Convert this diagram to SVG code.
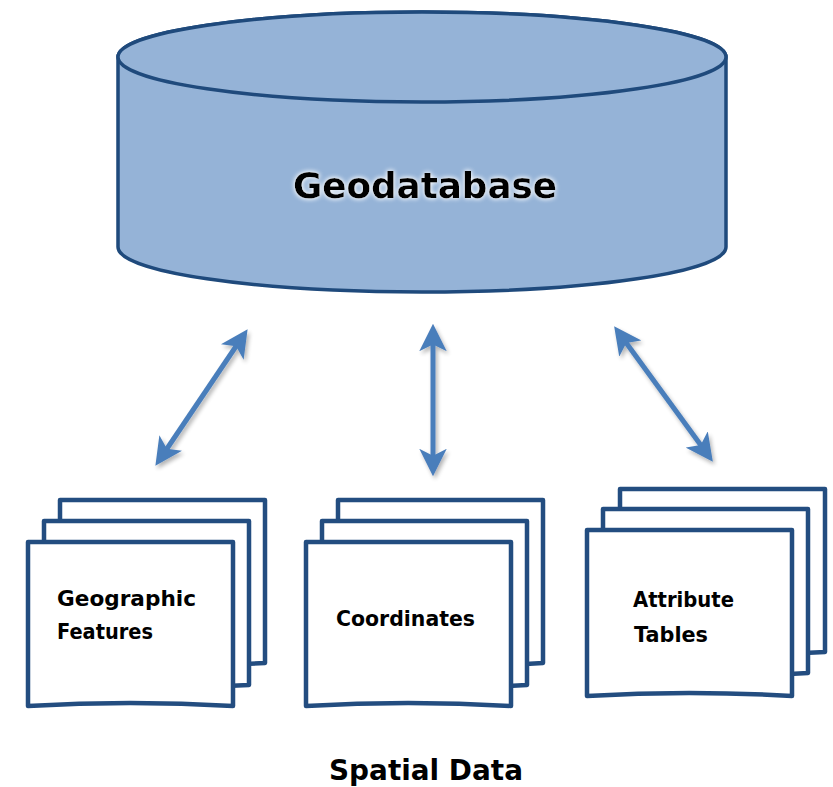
<svg xmlns="http://www.w3.org/2000/svg" width="833" height="787" viewBox="0 0 833 787">
<style>
.cyl{fill:#95b3d7;stroke:#1f4a7c;stroke-width:3.5}
.doc{fill:#ffffff;stroke:#234d80;stroke-width:4.5;stroke-linejoin:round}
.t{font-family:"DejaVu Sans","Liberation Sans",sans-serif;font-weight:bold;fill:#000}
.conn{stroke:#4a7ebb;stroke-width:5;fill:none;marker-start:url(#ah);marker-end:url(#ah)}
</style>
<defs>
<marker id="ah" viewBox="0 0 10 10" refX="7" refY="5" markerWidth="5.5" markerHeight="5.5" orient="auto-start-reverse" markerUnits="strokeWidth">
<path d="M0,0 L10,5 L0,10 L2.5,5 Z" fill="#4a7ebb"/>
</marker>
<filter id="glow" x="-10%" y="-30%" width="120%" height="160%">
<feGaussianBlur in="SourceAlpha" stdDeviation="2.5" result="b"/>
<feFlood flood-color="#ffffff" flood-opacity="0.8"/>
<feComposite in2="b" operator="in" result="g"/>
<feMerge><feMergeNode in="g"/><feMergeNode in="g"/><feMergeNode in="SourceGraphic"/></feMerge>
</filter>
<filter id="sh" x="-20%" y="-20%" width="140%" height="140%">
<feGaussianBlur in="SourceAlpha" stdDeviation="2"/>
<feOffset dx="2" dy="3" result="o"/>
<feComponentTransfer><feFuncA type="linear" slope="0.3"/></feComponentTransfer>
<feMerge><feMergeNode/><feMergeNode in="SourceGraphic"/></feMerge>
</filter>
</defs>

<g id="geodatabase">
<path class="cyl" d="M118,57 L118,247 A304,45 0 0 0 726,247 L726,57 A304,45 0 0 0 118,57 Z"/>
<ellipse class="cyl" cx="422" cy="57" rx="304" ry="45"/>
<text class="t" x="425" y="198" font-size="35" text-anchor="middle" textLength="264" lengthAdjust="spacingAndGlyphs" filter="url(#glow)">Geodatabase</text>
</g>

<g id="connectors" filter="url(#sh)">
<line class="conn" x1="243" y1="336" x2="160" y2="459"/>
<line class="conn" x1="433" y1="332" x2="433" y2="468"/>
<line class="conn" x1="619" y1="333" x2="708" y2="455"/>
</g>

<g id="geographic-features">
<path class="doc" d="M60,500 L265,500 L265,663 Q162,669 60,663 Z"/>
<path class="doc" d="M44,521 L249,521 L249,685 Q146,691 44,685 Z"/>
<path class="doc" d="M28,542 L233,542 L233,706 Q130,700 28,706 Z"/>
<text class="t" x="57" y="606" font-size="21.5" textLength="139" lengthAdjust="spacingAndGlyphs">Geographic</text>
<text class="t" x="57" y="639" font-size="21.5" textLength="96" lengthAdjust="spacingAndGlyphs">Features</text>
</g>

<g id="coordinates">
<path class="doc" d="M338,500 L543,500 L543,663 Q440,669 338,663 Z"/>
<path class="doc" d="M322,521 L527,521 L527,685 Q424,691 322,685 Z"/>
<path class="doc" d="M306,542 L511,542 L511,706 Q408,700 306,706 Z"/>
<text class="t" x="336" y="626" font-size="21.5" textLength="139" lengthAdjust="spacingAndGlyphs">Coordinates</text>
</g>

<g id="attribute-tables">
<path class="doc" d="M620,489 L825,489 L825,652 Q722,658 620,652 Z"/>
<path class="doc" d="M603,509 L808,509 L808,673 Q705,679 603,673 Z"/>
<path class="doc" d="M587,530 L792,530 L792,696 Q689,690 587,696 Z"/>
<text class="t" x="633" y="607" font-size="21.5" textLength="101" lengthAdjust="spacingAndGlyphs">Attribute</text>
<text class="t" x="634" y="642" font-size="21.5" textLength="74" lengthAdjust="spacingAndGlyphs">Tables</text>
</g>

<g id="spatial-data-label">
<text class="t" x="426" y="780" font-size="28" text-anchor="middle" textLength="194" lengthAdjust="spacingAndGlyphs">Spatial Data</text>
</g>
</svg>
